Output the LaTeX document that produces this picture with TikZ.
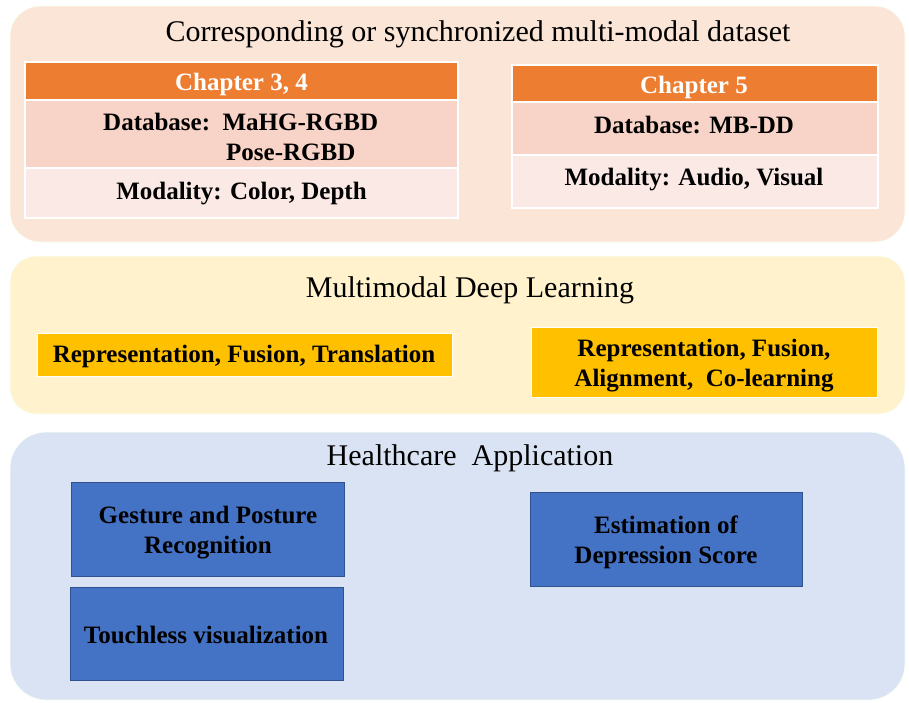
\documentclass[tikz,border=0pt]{standalone}
\usepackage{fontspec}
\setmainfont{Liberation Serif}
\begin{document}
\begin{tikzpicture}[x=1pt,y=-1pt,
  panel/.style={rounded corners=#1, draw=white!70!green!10, line width=0.8pt},
  cell/.style={draw=white, line width=1.6pt},
  title/.style={font=\fontsize{30}{35}\selectfont, inner sep=0pt},
  bold/.style={font=\fontsize{25}{30}\selectfont\bfseries, inner sep=0pt},
  goldbox/.style={fill=gold, draw=white, line width=1pt},
  bluebox/.style={fill=appblue, draw=appedge, line width=1pt}
]
\definecolor{peach}{HTML}{FBE5D6}
\definecolor{cream}{HTML}{FFF2CC}
\definecolor{paleblue}{HTML}{DAE3F3}
\definecolor{orangehead}{HTML}{ED7D31}
\definecolor{rowdark}{HTML}{F7D4C7}
\definecolor{rowlight}{HTML}{FBE9E5}
\definecolor{gold}{HTML}{FFC000}
\definecolor{appblue}{HTML}{4472C4}
\definecolor{appedge}{HTML}{2F528F}

\useasboundingbox (0,0) rectangle (909,702);

% --- panels ---
\path[panel=30pt, fill=peach] (10,6) rectangle (905,242);
\path[panel=26pt, fill=cream] (10,256) rectangle (905,414);
\path[panel=36pt, fill=paleblue] (10,432) rectangle (905,700);

% --- dataset panel ---
\node[title, anchor=base] (t1) at (478,41) {Corresponding or synchronized multi-modal dataset};

% table for chapters 3 and 4
\path[cell, fill=orangehead] (25,62) rectangle (458,100);
\path[cell, fill=rowdark] (25,100) rectangle (458,168);
\path[cell, fill=rowlight] (25,168) rectangle (458,218);
\node[bold, text=white, anchor=base] (ch34) at (241.5,90) {Chapter 3, 4};
\node[bold, anchor=base west] (db1) at (103,130) {Database:\ \ MaHG-RGBD};
\node[bold, anchor=base west] (db2) at (226,160) {Pose-RGBD};
\node[bold, anchor=base] (mod1) at (241.5,199) {Modality: Color, Depth};

% table for chapter 5
\path[cell, fill=orangehead] (512,65) rectangle (878,102);
\path[cell, fill=rowdark] (512,102) rectangle (878,155);
\path[cell, fill=rowlight] (512,155) rectangle (878,208);
\node[bold, text=white, anchor=base] (ch5) at (694,93) {Chapter 5};
\node[bold, anchor=base] (db3) at (694,133) {Database: MB-DD};
\node[bold, anchor=base] (mod2) at (694,185) {Modality: Audio, Visual};

% --- deep learning panel ---
\node[title, anchor=base] (t2) at (470,297) {Multimodal Deep Learning};
\path[goldbox] (37,333) rectangle (452,376);
\path[goldbox] (531,327) rectangle (877,397);
\node[bold, anchor=base] (rep1) at (244,362) {Representation, Fusion, Translation};
\node[bold, anchor=base] (rep2a) at (704,356) {Representation, Fusion,};
\node[bold, anchor=base] (rep2b) at (704,386) {Alignment,\ \ Co-learning};

% --- application panel ---
\node[title, anchor=base] (t3) at (470,465) {Healthcare\ \ Application};
\path[bluebox] (71,482) rectangle (344,576);
\path[bluebox] (70,587) rectangle (343,680);
\path[bluebox] (530,492) rectangle (802,586);
\node[bold, anchor=base] (g1) at (208,523) {Gesture and Posture};
\node[bold, anchor=base] (g2) at (208,553) {Recognition};
\node[bold, anchor=base] (tv) at (206,643) {Touchless visualization};
\node[bold, anchor=base] (e1) at (666,533) {Estimation of};
\node[bold, anchor=base] (e2) at (666,563) {Depression Score};
\end{tikzpicture}
\end{document}
